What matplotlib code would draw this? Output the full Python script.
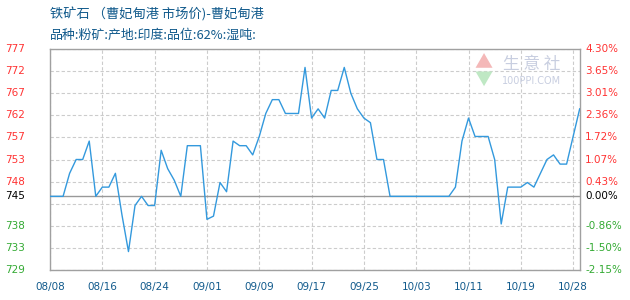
import numpy as np
import matplotlib.pyplot as plt

plt.rcParams['font.family'] = ['Noto Sans CJK SC', 'DejaVu Sans']

# prix journalier (index = jour depuis le 08/08)
days = list(range(82))
price = [745, 745, 745, 750, 753, 753, 757, 745, 747, 747,
         750, 741, 733, 743, 745, 743, 743, 755, 751, 748.5,
         745, 756, 756, 756, 740, 740.7, 748, 746, 757, 756,
         756, 754, 758, 763, 766, 766, 763, 763, 763, 773,
         762, 764, 762, 768, 768, 773, 767.4, 764, 762, 761,
         753, 753, 745, 745, 745, 745, 745, 745, 745, 745,
         745, 745, 747, 757, 762, 758, 758, 758, 753, 739,
         747, 747, 747, 748, 747, 750, 753, 754, 752, 752,
         758, 764]

base = 745
ymin, ymax = 729, 777
xticks = [0, 8, 16, 24, 32, 40, 48, 56, 64, 72, 80]
xlabels = ['08/08', '08/16', '08/24', '09/01', '09/09', '09/17',
           '09/25', '10/03', '10/11', '10/19', '10/28']
grid_vals = np.linspace(ymin, ymax, 11)
left_labels = ['729', '733', '738', '', '748', '753', '757', '762', '767', '772', '777']
right_labels = ['-2.15%', '-1.50%', '-0.86%', '', '0.43%', '1.07%', '1.72%',
                '2.36%', '3.01%', '3.65%', '4.30%']

title = '铁矿石 （曹妃甸港 市场价)-曹妃甸港'
subtitle = '品种:粉矿:产地:印度:品位:62%:湿吨:'

red = '#ff3333'
green = '#33aa33'
blue_txt = '#115a8c'

fig = plt.figure(figsize=(6.3, 3), dpi=100)
ax = fig.add_axes([50/630, 30/300, 530/630, 221/300])
ax.set_xlim(0, 81.05)
ax.set_ylim(ymin, ymax)

ax.set_yticks(grid_vals)
ax.set_xticks(xticks)
ax.set_yticklabels([])
ax.set_xticklabels([])
ax.tick_params(length=0)
ax.grid(True, color='#cccccc', ls=(0, (3, 2)), lw=0.8)
for s in ax.spines.values():
    s.set_color('#a0a0a0')
    s.set_linewidth(1)

ax.axhline(base, color='#999999', lw=1, zorder=2)
ax.plot(days, price, color='#3399dd', lw=1.0, zorder=3)

# etiquettes gauche / droite
for v, lab, rlab in zip(grid_vals, left_labels, right_labels):
    if lab == '':
        continue
    c = red if v > base else green
    ax.annotate(lab, xy=(5, v), xycoords=('figure pixels', 'data'),
                ha='left', va='center', color=c, fontsize=7.5, family='DejaVu Sans')
    ax.annotate(rlab, xy=(585, v), xycoords=('figure pixels', 'data'),
                ha='left', va='center', color=c, fontsize=7.5, family='DejaVu Sans')
ax.annotate(str(base), xy=(5, base), xycoords=('figure pixels', 'data'),
            ha='left', va='center', color='black', fontsize=7.5, family='DejaVu Sans')
ax.annotate('0.00%', xy=(585, base), xycoords=('figure pixels', 'data'),
            ha='left', va='center', color='black', fontsize=7.5, family='DejaVu Sans')

for x, lab in zip(xticks, xlabels):
    ax.annotate(lab, xy=(x, 13), xycoords=('data', 'figure pixels'),
                ha='center', va='center', color=blue_txt, fontsize=7.5, family='DejaVu Sans')

fig.text(50/630, 1 - 14/300, title, ha='left', va='center', color=blue_txt, fontsize=9.5)
fig.text(50/630, 1 - 35/300, subtitle, ha='left', va='center', color=blue_txt, fontsize=9.3)

# filigrane
fig.text(483/630, 1 - 63/300, '▲', ha='center', va='center', color='#f4b8b8', fontsize=13)
fig.text(483/630, 1 - 80/300, '▼', ha='center', va='center', color='#bfe8c4', fontsize=13)
fig.text(532/630, 1 - 65/300, '生 意 社', ha='center', va='center', color='#c8cee0', fontsize=12)
fig.text(532/630, 1 - 81/300, '100PPI.COM', ha='center', va='center', color='#c8cee0',
         fontsize=7, family='DejaVu Sans')

fig.savefig('out.png', dpi=100)
